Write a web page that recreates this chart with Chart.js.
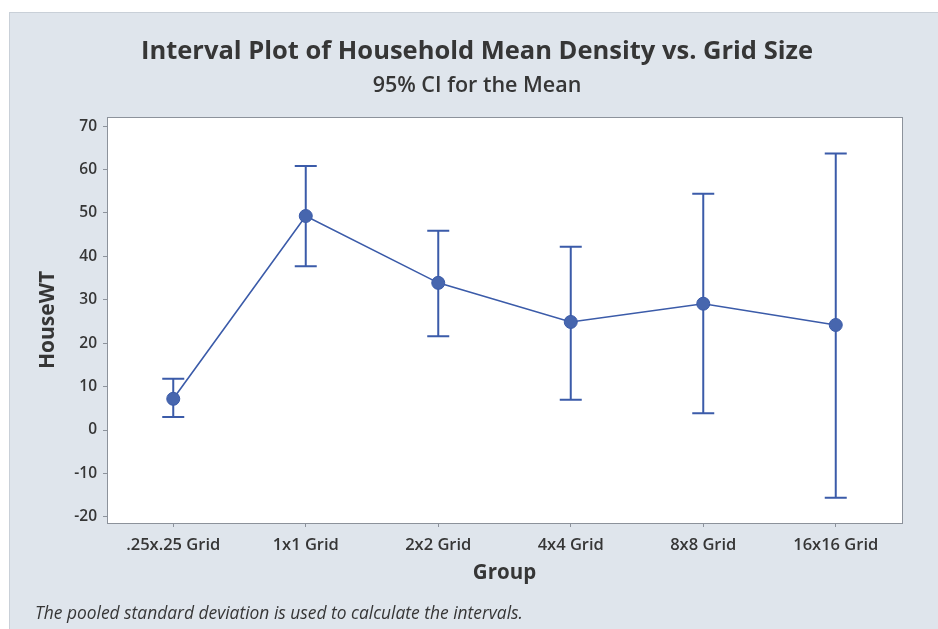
<!DOCTYPE html>
<html>
<head>
<meta charset="utf-8">
<script src="https://cdn.jsdelivr.net/npm/chart.js@4"></script>
<style>
  html, body { margin: 0; padding: 0; background: #ffffff; }
  #wrap { width: 938px; height: 629px; position: relative; }
</style>
</head>
<body>
<div id="wrap"><canvas id="c" width="938" height="629"></canvas></div>
<script>
// Groups and 95% confidence intervals for the mean of HouseWT
const groups = ['.25x.25 Grid', '1x1 Grid', '2x2 Grid', '4x4 Grid', '8x8 Grid', '16x16 Grid'];
const means  = [7.2, 49.3, 33.9, 24.9, 29.1, 24.2];
const lower  = [3.0, 37.7, 21.6, 7.0, 3.9, -15.6];
const upper  = [11.8, 60.8, 45.9, 42.2, 54.4, 63.7];
const yTicks = [-20, -10, 0, 10, 20, 30, 40, 50, 60, 70];

const titleText = 'Interval Plot of Household Mean Density vs. Grid Size';
const subtitleText = '95% CI for the Mean';
const footnoteText = 'The pooled standard deviation is used to calculate the intervals.';

const FONT = '"Open Sans", "Noto Sans", sans-serif';
const BLUE = '#3b5ba9';
const TEXT = '#363636';

// Grey panel, headings, plot frame and footnote
const panelPlugin = {
  id: 'panel',
  beforeDraw(chart) {
    const ctx = chart.ctx;
    ctx.save();
    ctx.fillStyle = '#ffffff';
    ctx.fillRect(0, 0, chart.width, chart.height);
    ctx.fillStyle = '#dfe5ec';
    ctx.fillRect(9, 12, chart.width - 9, chart.height - 12);
    ctx.strokeStyle = '#c9d0d8';
    ctx.lineWidth = 1;
    ctx.strokeRect(9.5, 12.5, chart.width - 9, chart.height - 12);
    const a = chart.chartArea;
    ctx.fillStyle = '#ffffff';
    ctx.fillRect(a.left, a.top, a.right - a.left, a.bottom - a.top);
    ctx.restore();
  },
  afterDraw(chart) {
    const ctx = chart.ctx;
    const a = chart.chartArea;
    ctx.save();
    ctx.strokeStyle = '#8c929b';
    ctx.lineWidth = 1;
    ctx.strokeRect(a.left + 0.5, a.top + 0.5, a.right - a.left, a.bottom - a.top);
    ctx.fillStyle = TEXT;
    ctx.textAlign = 'center';
    ctx.textBaseline = 'middle';
    ctx.font = 'bold 25.5px ' + FONT;
    ctx.fillText(titleText, 477, 52);
    ctx.font = '600 21.5px ' + FONT;
    ctx.fillText(subtitleText, 477, 86);
    ctx.textAlign = 'left';
    ctx.font = 'italic 17.4px ' + FONT;
    ctx.fillText(footnoteText, 35, 614);
    ctx.restore();
  }
};

// Vertical interval bars with end caps, drawn under the mean line
const intervalPlugin = {
  id: 'intervals',
  beforeDatasetsDraw(chart) {
    const ctx = chart.ctx;
    const xs = chart.scales.x, ys = chart.scales.y;
    ctx.save();
    ctx.strokeStyle = BLUE;
    ctx.lineWidth = 2;
    const cap = 11;
    groups.forEach((g, i) => {
      const x = xs.getPixelForValue(i);
      const yl = ys.getPixelForValue(lower[i]);
      const yu = ys.getPixelForValue(upper[i]);
      ctx.beginPath();
      ctx.moveTo(x, yu); ctx.lineTo(x, yl);
      ctx.moveTo(x - cap, yu); ctx.lineTo(x + cap, yu);
      ctx.moveTo(x - cap, yl); ctx.lineTo(x + cap, yl);
      ctx.stroke();
    });
    ctx.restore();
  }
};

new Chart(document.getElementById('c'), {
  type: 'line',
  data: {
    labels: groups,
    datasets: [{
      data: means,
      borderColor: BLUE,
      borderWidth: 1.6,
      backgroundColor: '#4766ae',
      pointBackgroundColor: '#4766ae',
      pointBorderColor: '#3b5ba9',
      pointBorderWidth: 1,
      pointRadius: 6.5,
      tension: 0,
      fill: false
    }]
  },
  options: {
    responsive: false,
    animation: false,
    events: [],
    layout: { padding: { left: 0, top: 117, right: 36, bottom: 0 } },
    plugins: { legend: { display: false }, tooltip: { enabled: false } },
    scales: {
      x: {
        type: 'category',
        offset: true,
        grid: { drawOnChartArea: false, drawTicks: true, tickLength: 4, color: '#8c929b' },
        border: { display: true, color: '#8c929b' },
        ticks: { color: TEXT, font: { family: FONT, size: 16.5, weight: '600' }, padding: 8, maxRotation: 0 },
        title: { display: true, text: 'Group', color: TEXT, font: { family: FONT, size: 20.5, weight: 'bold' }, padding: { top: 0, bottom: 44 } },
        afterFit(scale) { scale.height = 106; }
      },
      y: {
        min: -21.4,
        max: 72.1,
        afterBuildTicks(scale) { scale.ticks = yTicks.map(v => ({ value: v })); },
        grid: { drawOnChartArea: false, drawTicks: true, tickLength: 4, color: '#8c929b' },
        border: { display: true, color: '#8c929b' },
        ticks: { color: TEXT, font: { family: FONT, size: 15.5, weight: '600' }, padding: 6 },
        title: { display: true, text: 'HouseWT', color: TEXT, font: { family: FONT, size: 21, weight: 'bold' }, padding: { top: 35, bottom: 0 } },
        afterFit(scale) { scale.width = 107; }
      }
    }
  },
  plugins: [panelPlugin, intervalPlugin]
});
</script>
</body>
</html>
